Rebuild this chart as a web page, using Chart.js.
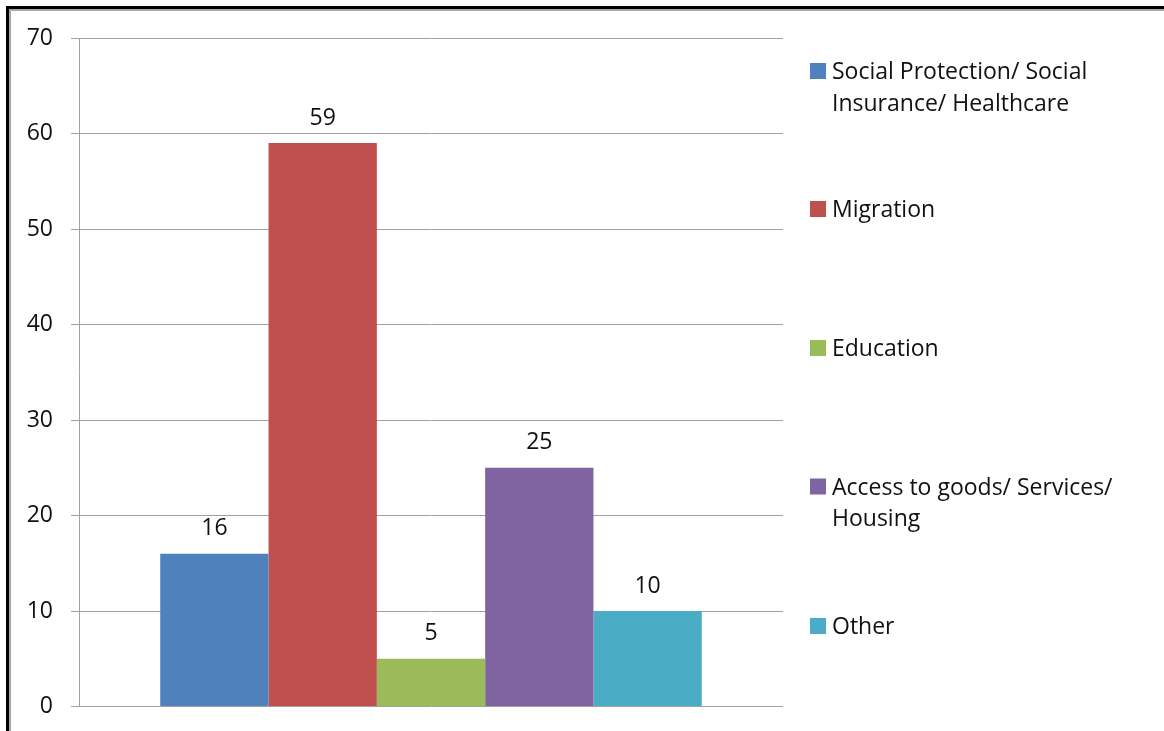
<!DOCTYPE html>
<html>
<head>
<meta charset="utf-8">
<script src="https://cdn.jsdelivr.net/npm/chart.js@4.4.1/dist/chart.umd.min.js"></script>
<style>
  html, body { margin: 0; padding: 0; background: #fff; }
  #wrap { position: relative; width: 1164px; height: 731px; overflow: hidden; }
  #frame { position: absolute; left: 6px; top: 6px; right: -10px; bottom: -10px;
           border-left: 3px solid #000; border-top: 3px solid #000; }
  #frame2 { position: absolute; left: 0; top: 0; right: 0; bottom: 0;
            border-left: 2px solid #a8a8a8; border-top: 2px solid #a8a8a8; }
  #cv { position: absolute; left: 0; top: 0; }
</style>
</head>
<body>
<div id="wrap">
  <div id="frame"><div id="frame2"></div></div>
  <canvas id="cv" width="1164" height="731"></canvas>
</div>
<script>
// ---- data ----
const categories = ['Total'];
const seriesNames = [
  'Social Protection/ Social Insurance/ Healthcare',
  'Migration',
  'Education',
  'Access to goods/ Services/ Housing',
  'Other'
];
const seriesValues = [16, 59, 5, 25, 10];
const yTickLabels = [0, 10, 20, 30, 40, 50, 60, 70];

// ---- style ----
const seriesColors = ['#4F81BD', '#C0504D', '#9BBB59', '#8064A2', '#4BACC6'];
const FONT = 'Open Sans';
const FSIZE = 23;
const TEXT = '#111';
const GRID = '#a0a0a0';

const datasets = seriesNames.map((name, i) => ({
  label: name,
  data: [seriesValues[i]],
  backgroundColor: seriesColors[i],
  borderWidth: 0,
  categoryPercentage: 5 / 6.5,
  barPercentage: 1
}));

const valueLabels = {
  id: 'valueLabels',
  afterDatasetsDraw(chart) {
    const ctx = chart.ctx;
    ctx.save();
    ctx.font = FSIZE + 'px "' + FONT + '"';
    ctx.fillStyle = TEXT;
    ctx.textAlign = 'center';
    ctx.textBaseline = 'alphabetic';
    chart.data.datasets.forEach((ds, i) => {
      const meta = chart.getDatasetMeta(i);
      meta.data.forEach((el, j) => {
        ctx.fillText(String(ds.data[j]), el.x, el.y - 18.5);
      });
    });
    ctx.restore();
  }
};

const sideLegend = {
  id: 'sideLegend',
  afterDraw(chart, args, opts) {
    const ctx = chart.ctx;
    ctx.save();
    ctx.font = FSIZE + 'px "' + FONT + '"';
    ctx.textAlign = 'left';
    ctx.textBaseline = 'alphabetic';
    chart.data.datasets.forEach((ds, i) => {
      const words = ds.label.split(' ');
      const lines = [];
      let cur = '';
      words.forEach(w => {
        const t = cur ? cur + ' ' + w : w;
        if (ctx.measureText(t).width > opts.maxWidth && cur) { lines.push(cur); cur = w; }
        else cur = t;
      });
      if (cur) lines.push(cur);
      const base = opts.baselines[i];
      ctx.fillStyle = ds.backgroundColor;
      ctx.fillRect(opts.boxX, base - opts.box, opts.box, opts.box);
      ctx.fillStyle = TEXT;
      lines.forEach((ln, k) => ctx.fillText(ln, opts.textX, base + k * opts.lineHeight));
    });
    ctx.restore();
  }
};

new Chart(document.getElementById('cv'), {
  type: 'bar',
  data: { labels: categories, datasets },
  plugins: [valueLabels, sideLegend],
  options: {
    responsive: false,
    animation: false,
    devicePixelRatio: 1,
    layout: { padding: { left: 0, top: 38, right: 381, bottom: 24.5 } },
    plugins: {
      legend: { display: false },
      tooltip: { enabled: false },
      sideLegend: { boxX: 810, textX: 832, box: 16, lineHeight: 31.5, maxWidth: 312,
                    baselines: [79, 217, 356, 494.5, 634] }
    },
    scales: {
      x: { display: false },
      y: {
        min: yTickLabels[0],
        max: yTickLabels[yTickLabels.length - 1],
        afterBuildTicks(scale) { scale.ticks = yTickLabels.map(v => ({ value: v })); },
        afterFit(scale) {
          scale.width = 79;
          scale.paddingTop = 0;
          scale.paddingBottom = 0;
        },
        ticks: { padding: 18, color: TEXT, font: { family: FONT, size: FSIZE } },
        grid: { color: GRID, lineWidth: 1, tickLength: 8, drawTicks: true },
        border: { display: true, color: GRID, width: 1 }
      }
    }
  }
});
</script>
</body>
</html>
